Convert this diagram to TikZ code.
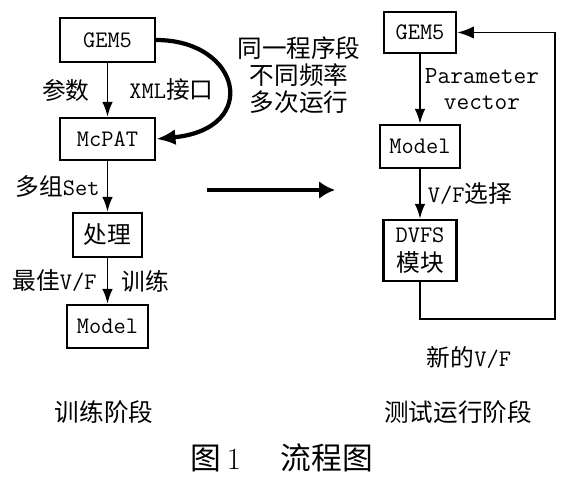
\documentclass[tikz,border=0pt]{standalone}
\usepackage{fontspec}
\usepackage{tikz}
\usetikzlibrary{arrows.meta, positioning}
\newfontfamily\cjk{Noto Sans CJK SC}
\newcommand{\zh}[1]{{\cjk #1}}

\begin{document}
\begin{tikzpicture}[
    x=0.02cm, y=-0.02cm,
    box/.style={draw, line width=1.3pt, inner sep=0pt, align=center, font=\ttfamily\fontsize{13.5}{16.5}\selectfont},
    lbl/.style={inner sep=0pt, align=center, font=\ttfamily\fontsize{13.5}{15.3}\selectfont},
    edge/.style={line width=1.1pt, -{Latex[length=8.5pt,width=6pt]}},
    bigedge/.style={line width=2.4pt, -{Latex[length=11pt,width=9pt]}}
]
\useasboundingbox (0,0) rectangle (573,477);

% training stage
\node[box, minimum width=1.9cm, minimum height=0.88cm] (gem) at (107.5,40) {GEM5};
\node[box, minimum width=1.9cm, minimum height=0.84cm] (mcpat) at (107.5,139) {McPAT};
\node[box, minimum width=1.38cm, minimum height=0.88cm] (proc) at (107.5,235) {\zh{处理}};
\node[box, minimum width=1.62cm, minimum height=0.86cm] (model) at (107.5,326.5) {Model};

\draw[edge] (gem) -- (mcpat)
    node[lbl, midway, left=0.34cm] (lparam) {\zh{参数}}
    node[lbl, midway, right=0.42cm] (lxml) {XML\zh{接口}};
\draw[bigedge] (gem.east) .. controls +(85,0) and +(105,-10) .. (mcpat.east);
\draw[edge] (mcpat) -- (proc) node[lbl, midway, left=0.14cm] (lset) {\zh{多组}Set};
\draw[edge] (proc) -- (model)
    node[lbl, midway, left=0.2cm] (lbest) {\zh{最佳}V/F}
    node[lbl, midway, right=0.26cm] (ltrain) {\zh{训练}};

\node[lbl, font=\cjk\fontsize{14}{15.3}\selectfont] (stage1) at (104,412) {训练阶段};

% middle
\node[lbl, font=\cjk\fontsize{14}{15.3}\selectfont] (note) at (299,75) {同一程序段\\不同频率\\多次运行};
\coordinate (go) at (207,190);
\coordinate (to) at (335,190);
\draw[line width=1.9pt, -{Latex[length=9pt,width=10pt]}] (go) -- (to);

% test stage
\node[box, minimum width=1.44cm, minimum height=0.82cm] (gemr) at (420,32.5) {GEM5};
\node[box, minimum width=1.6cm, minimum height=0.86cm] (modelr) at (420,146.5) {Model};
\node[box, minimum width=1.46cm, minimum height=1.22cm] (dvfs) at (420,250.5) {DVFS\\\zh{模块}};

\draw[edge] (gemr) -- (modelr)
    node[lbl, midway, right=0.08cm, font=\ttfamily\fontsize{14}{15.3}\selectfont] (lvec) {Parameter\\vector};
\draw[edge] (modelr) -- (dvfs) node[lbl, midway, right=0.14cm] (lsel) {V/F\zh{选择}};
\coordinate (loop) at (555,319);
\draw[line width=1.1pt, -{Latex[length=9.5pt,width=7pt]}] (dvfs.south) |- (loop) |- (gemr.east);

\node[lbl] (newvf) at (469,357) {\zh{新的}V/F};
\node[lbl, font=\cjk\fontsize{14}{15.3}\selectfont] (stage2) at (458,412) {测试运行阶段};

\node[lbl, font=\rmfamily\fontsize{17.5}{20}\selectfont] (cap) at (282,458) {\zh{图}\,1\hspace{1.3em}\zh{流程图}};
\end{tikzpicture}
\end{document}
